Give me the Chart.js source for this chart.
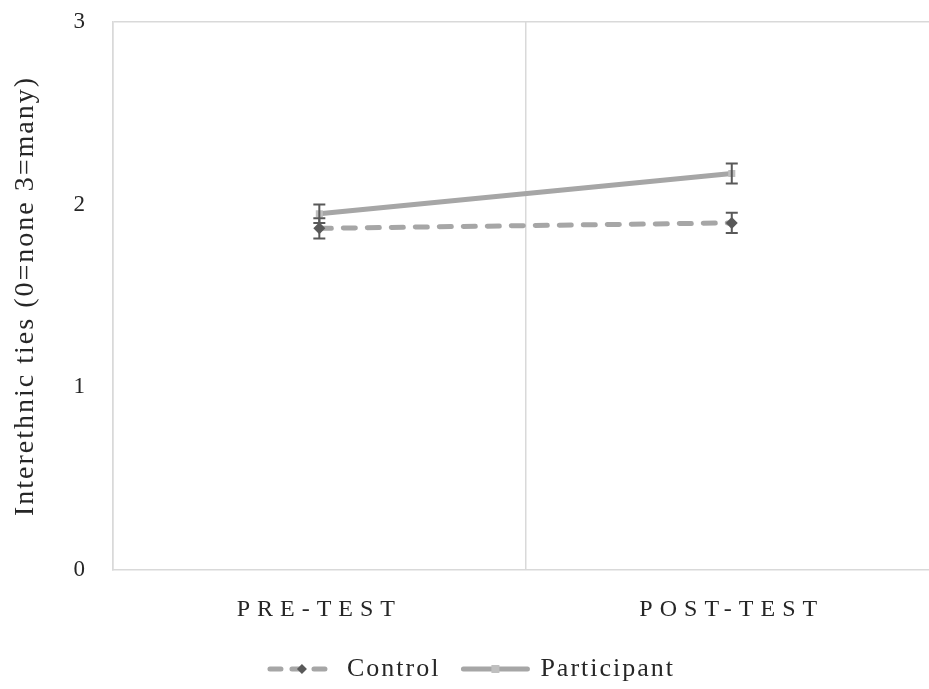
<!DOCTYPE html>
<html>
<head>
<meta charset="utf-8">
<script src="https://cdn.jsdelivr.net/npm/chart.js@4/dist/chart.umd.min.js"></script>
<style>
  html, body { margin: 0; padding: 0; background: #fff; overflow: hidden; }
  #wrap { width: 929px; height: 689px; overflow: hidden; }
</style>
</head>
<body>
<!-- el area del grafico se sale por la derecha, como en el original -->
<div id="wrap"><canvas id="tiesChart" width="944" height="689"></canvas></div>
<script>
// valores
const categories = ['PRE-TEST', 'POST-TEST'];
const controlMean = [1.87, 1.90];
const controlErr = [0.055, 0.055];
const participantMean = [1.95, 2.17];
const participantErr = [0.05, 0.055];
const yTicks = [0, 1, 2, 3];

const serif = "'Liberation Serif', 'DejaVu Serif', serif";
const LEG_W = 80;

// barras de error con remate
const errorBars = {
    id: 'errorBars',
    afterDatasetsDraw(chart) {
        const ctx = chart.ctx;
        const y = chart.scales.y;
        const errs = [controlErr, participantErr];
        chart.data.datasets.forEach(function(ds, i) {
            const meta = chart.getDatasetMeta(i);
            meta.data.forEach(function(pt, j) {
                const top = y.getPixelForValue(ds.data[j] + errs[i][j]);
                const bot = y.getPixelForValue(ds.data[j] - errs[i][j]);
                ctx.save();
                ctx.strokeStyle = '#595959';
                ctx.lineWidth = 2;
                ctx.beginPath();
                ctx.moveTo(pt.x, top); ctx.lineTo(pt.x, bot);
                ctx.moveTo(pt.x - 6, top); ctx.lineTo(pt.x + 6, top);
                ctx.moveTo(pt.x - 6, bot); ctx.lineTo(pt.x + 6, bot);
                ctx.stroke();
                ctx.restore();
            });
        });
    }
};

// espaciado de letras, etiquetas del eje x mas abiertas, y lineas de la leyenda
const extras = {
    id: 'extras',
    beforeUpdate(chart) { chart.ctx.letterSpacing = '2px'; },
    beforeDraw(chart) { chart.ctx.letterSpacing = '2px'; },
    afterLayout(chart) {
        const x = chart.scales.x;
        if (!x._spaced) {
            const orig = x.drawLabels;
            x.drawLabels = function(area) {
                chart.ctx.save();
                chart.ctx.letterSpacing = '7px';
                orig.call(this, area);
                chart.ctx.restore();
            };
            x._spaced = true;
        }
    },
    afterDraw(chart) {
        const legend = chart.legend;
        const ctx = chart.ctx;
        if (!legend || !legend.legendHitBoxes) return;
        legend.legendHitBoxes.forEach(function(box, i) {
            const ds = chart.data.datasets[i];
            const cy = box.top + box.height / 2;
            const x0 = box.left + 14, x1 = box.left + 82;
            const cx = (x0 + x1) / 2;
            ctx.save();
            ctx.strokeStyle = ds.borderColor;
            ctx.lineWidth = ds.borderWidth;
            ctx.lineCap = 'round';
            ctx.setLineDash(ds.borderDash ? [11, 11] : []);
            ctx.beginPath();
            ctx.moveTo(x0 + 2, cy);
            ctx.lineTo(x1 - 2, cy);
            ctx.stroke();
            ctx.setLineDash([]);
            ctx.fillStyle = ds.pointBackgroundColor;
            ctx.beginPath();
            if (ds.pointStyle === 'rectRot') {
                ctx.moveTo(cx, cy - 5); ctx.lineTo(cx + 5, cy);
                ctx.lineTo(cx, cy + 5); ctx.lineTo(cx - 5, cy);
            } else {
                ctx.rect(cx - 4, cy - 4, 8, 8);
            }
            ctx.closePath();
            ctx.fill();
            ctx.restore();
        });
    }
};

const ctx = document.getElementById('tiesChart').getContext('2d');
new Chart(ctx, {
    type: 'line',
    data: {
        labels: categories,
        datasets: [{
            label: 'Control',
            data: controlMean,
            borderColor: '#a6a6a6',
            borderWidth: 5,
            borderDash: [12, 12],
            borderCapStyle: 'round',
            pointStyle: 'rectRot',
            pointRadius: 6,
            pointBackgroundColor: '#595959',
            pointBorderColor: '#595959',
            pointBorderWidth: 0,
            fill: false
        }, {
            label: 'Participant',
            data: participantMean,
            borderColor: '#a6a6a6',
            borderWidth: 5,
            borderCapStyle: 'round',
            pointStyle: 'rect',
            pointRadius: 5,
            pointBackgroundColor: '#bfbfbf',
            pointBorderColor: '#bfbfbf',
            pointBorderWidth: 0,
            fill: false
        }]
    },
    options: {
        responsive: false,
        animation: false,
        layout: { padding: { top: 0, right: 0, left: -15, bottom: -3 } },
        scales: {
            x: {
                offset: true,
                grid: { display: true, offset: true, color: '#d9d9d9', lineWidth: 1.5, drawTicks: false },
                border: { display: true, color: '#d9d9d9', width: 1.5 },
                ticks: { color: '#262626', font: { family: serif, size: 24 }, padding: 25 }
            },
            y: {
                min: 0,
                max: 3,
                afterBuildTicks(scale) {
                    scale.ticks = yTicks.map(v => ({ value: v }));
                },
                grid: {
                    drawTicks: true,
                    tickLength: 18,
                    tickColor: 'rgba(0,0,0,0)',
                    lineWidth: 1.5,
                    color: c => (c.tick && c.tick.value === 3 ? '#d9d9d9' : 'rgba(0,0,0,0)')
                },
                border: { display: true, color: '#d9d9d9', width: 1.5 },
                ticks: { color: '#262626', font: { family: serif, size: 23 }, padding: 8 },
                title: {
                    display: true,
                    text: 'Interethnic ties (0=none 3=many)',
                    color: '#262626',
                    font: { family: serif, size: 28 },
                    padding: { top: 24, bottom: 23 }
                }
            }
        },
        plugins: {
            legend: {
                position: 'bottom',
                labels: {
                    usePointStyle: true,
                    pointStyle: 'line',
                    pointStyleWidth: LEG_W,
                    color: '#262626',
                    font: { family: serif, size: 26 },
                    padding: 7
                }
            },
            tooltip: { enabled: false }
        }
    },
    plugins: [errorBars, extras]
});
</script>
</body>
</html>
